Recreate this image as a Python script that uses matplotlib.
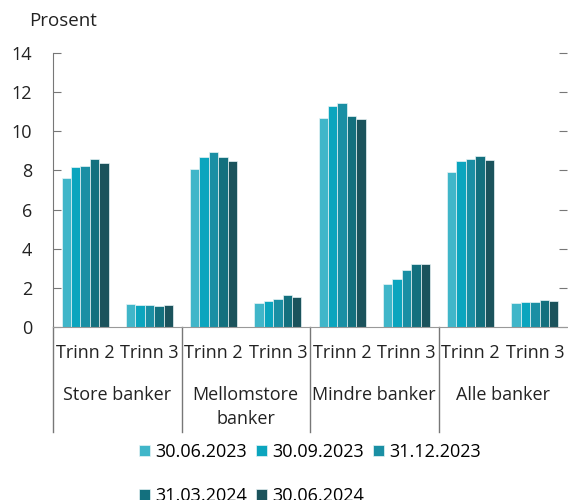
import matplotlib
matplotlib.use("Agg")
import matplotlib.pyplot as plt
import numpy as np
from matplotlib.transforms import blended_transform_factory

plt.rcParams['font.family'] = ['Open Sans', 'DejaVu Sans']

groups = ["Store banker", "Mellomstore\nbanker", "Mindre banker", "Alle banker"]
stages = ["Trinn 2", "Trinn 3"]
series = ["30.06.2023", "30.09.2023", "31.12.2023", "31.03.2024", "30.06.2024"]
colors = ["#40b6c9", "#0ba5be", "#1a8fa4", "#13707e", "#1b535c"]

# values per series, ordered: Store T2, Store T3, Mellom T2, Mellom T3, Mindre T2, Mindre T3, Alle T2, Alle T3
values = [
    [7.63, 1.18, 8.07, 1.23, 10.68, 2.21, 7.92, 1.24],
    [8.19, 1.14, 8.70, 1.33, 11.28, 2.45, 8.48, 1.28],
    [8.23, 1.11, 8.94, 1.43, 11.45, 2.90, 8.58, 1.29],
    [8.58, 1.09, 8.69, 1.62, 10.80, 3.20, 8.74, 1.36],
    [8.40, 1.11, 8.50, 1.53, 10.63, 3.20, 8.55, 1.33],
]

FS = 13
TXT = '#222222'

fig = plt.figure(figsize=(5.68, 5.0), dpi=100)
ax = fig.add_axes([53/568, 1-327/500, 514/568, 274/500])

n = len(series)
ncat = len(groups) * len(stages)
x = np.arange(ncat)
w = 0.147
handles = []
for i, (name, vals, c) in enumerate(zip(series, values, colors)):
    h = ax.bar(x + (i - (n-1)/2) * w, vals, width=w, color=c, label=name,
               edgecolor="#e8f4f6", linewidth=0.5)
    handles.append(h)

ax.set_xlim(-0.5, ncat - 0.5)
ax.set_ylim(0, 14)
ax.set_yticks(range(0, 15, 2))
ax.tick_params(axis='y', direction='in', length=6, color='#777777',
               labelsize=FS, labelcolor=TXT, right=True, pad=15)
ax.set_xticks([])
for s in ['top', 'right']:
    ax.spines[s].set_visible(False)
ax.spines['left'].set_color('#777777')
ax.spines['bottom'].set_color('#999999')

tr = blended_transform_factory(ax.transData, ax.transAxes)
for k in x:
    ax.text(k, -0.095, stages[k % 2], transform=tr, ha='center', va='center',
            fontsize=FS, color=TXT)
for g, name in enumerate(groups):
    ax.text(2*g + 0.5, -0.215, name, transform=tr, ha='center', va='top',
            fontsize=FS, color=TXT, linespacing=1.45)
for g in range(len(groups)):
    ax.plot([2*g - 0.5, 2*g - 0.5], [0, -0.385], transform=tr, color='#777777',
            lw=1.0, clip_on=False)

fig.text(29/568, 1-21/500, "Prosent", ha='left', va='center', fontsize=13.5,
         color=TXT)

# row-major ordering for a 3-column legend
order = [0, 3, 1, 4, 2]
fig.legend([handles[i] for i in order], [series[i] for i in order],
           loc='upper left', bbox_to_anchor=(139/568, 1-443/500), ncol=3,
           frameon=False, fontsize=13, handlelength=0.6, handleheight=0.6,
           handletextpad=0.3, columnspacing=0.5, labelspacing=1.42,
           borderaxespad=0, borderpad=0)

fig.savefig("out.png", dpi=100)
